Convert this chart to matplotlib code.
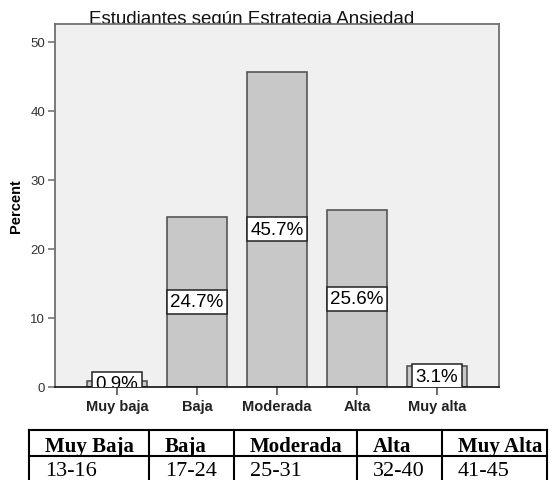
import numpy as np
import matplotlib
matplotlib.use("Agg")
import matplotlib.pyplot as plt
from matplotlib.lines import Line2D

#Data
categories = ['Muy baja', 'Baja', 'Moderada', 'Alta', 'Muy alta']
percent = [0.9, 24.7, 45.7, 25.6, 3.1]
yticks = [0, 10, 20, 30, 40, 50]

#Score ranges table below the chart
table_header = ['Muy Baja', 'Baja', 'Moderada', 'Alta', 'Muy Alta']
table_ranges = ['13-16', '17-24', '25-31', '32-40', '41-45']

W, H = 558, 481
fig = plt.figure(figsize=(W / 100, H / 100), dpi=100)
fig.patch.set_facecolor('white')

def fx(px):
    return px / W

def fy(py):
    return 1 - py / H

###Bar chart###
ax = fig.add_axes([fx(55), fy(388), fx(499) - fx(55), fy(25) - fy(388)])
ax.set_facecolor('#f0f0f0')

x = np.arange(len(categories))
ax.bar(x, percent, width=0.75, color='#c8c8c8', edgecolor='#555555', linewidth=1.2, zorder=2)

#Value labels in white boxes at the middle of each bar
for xi, v in zip(x, percent):
    ax.text(xi, v / 2, '%.1f%%' % v, ha='center', va='center', fontsize=13.5,
            family='Liberation Sans', color='black', clip_on=True, zorder=3,
            bbox=dict(boxstyle='square,pad=0.18', facecolor='white', edgecolor='#222222', linewidth=1.1))

ax.set_xlim(-0.775, 4.775)
ax.set_ylim(0, 52.6)
ax.set_yticks(yticks)
ax.set_xticks(x)
ax.set_xticklabels(categories, fontsize=10.5, fontweight='bold', family='Liberation Sans', color='#222222')
for lab in ax.get_yticklabels():
    lab.set_fontsize(9.5)
    lab.set_family('Liberation Sans')
    lab.set_color('#333333')
ax.tick_params(axis='y', length=5, width=1.2, color='#777777', pad=2)
ax.tick_params(axis='x', length=5.5, width=1.2, color='#555555', pad=3)

#Frame
for s in ['left', 'top', 'right']:
    ax.spines[s].set_color('#707070')
    ax.spines[s].set_linewidth(1.3)
ax.spines['bottom'].set_color('#111111')
ax.spines['bottom'].set_linewidth(1.2)

ax.set_ylabel('Percent', fontsize=10.5, fontweight='bold', family='Liberation Sans', labelpad=5)

#Title drawn behind the axes so its descenders get hidden
fig.text(fx(252), fy(24.5), 'Estudiantes según Estrategia Ansiedad', ha='center', va='baseline',
         fontsize=13.5, family='Liberation Sans', color='#111111', zorder=-1)

###Table###
col_edges = [29, 149, 234, 357, 442, 547]
row_edges = [431, 457, 483]
for px in col_edges:
    fig.add_artist(Line2D([fx(px), fx(px)], [fy(row_edges[0]), fy(row_edges[-1])],
                          transform=fig.transFigure, color='black', linewidth=1.5))
for py in row_edges:
    fig.add_artist(Line2D([fx(col_edges[0]), fx(col_edges[-1])], [fy(py), fy(py)],
                          transform=fig.transFigure, color='black', linewidth=1.5))

for i in range(len(table_header)):
    fig.text(fx(col_edges[i] + 16), fy(452), table_header[i], ha='left', va='baseline',
             fontsize=15, fontweight='bold', family='Liberation Serif')
    fig.text(fx(col_edges[i] + 16), fy(476.5), table_ranges[i], ha='left', va='baseline',
             fontsize=16, family='Liberation Serif')

plt.savefig('out.png', dpi=100)
